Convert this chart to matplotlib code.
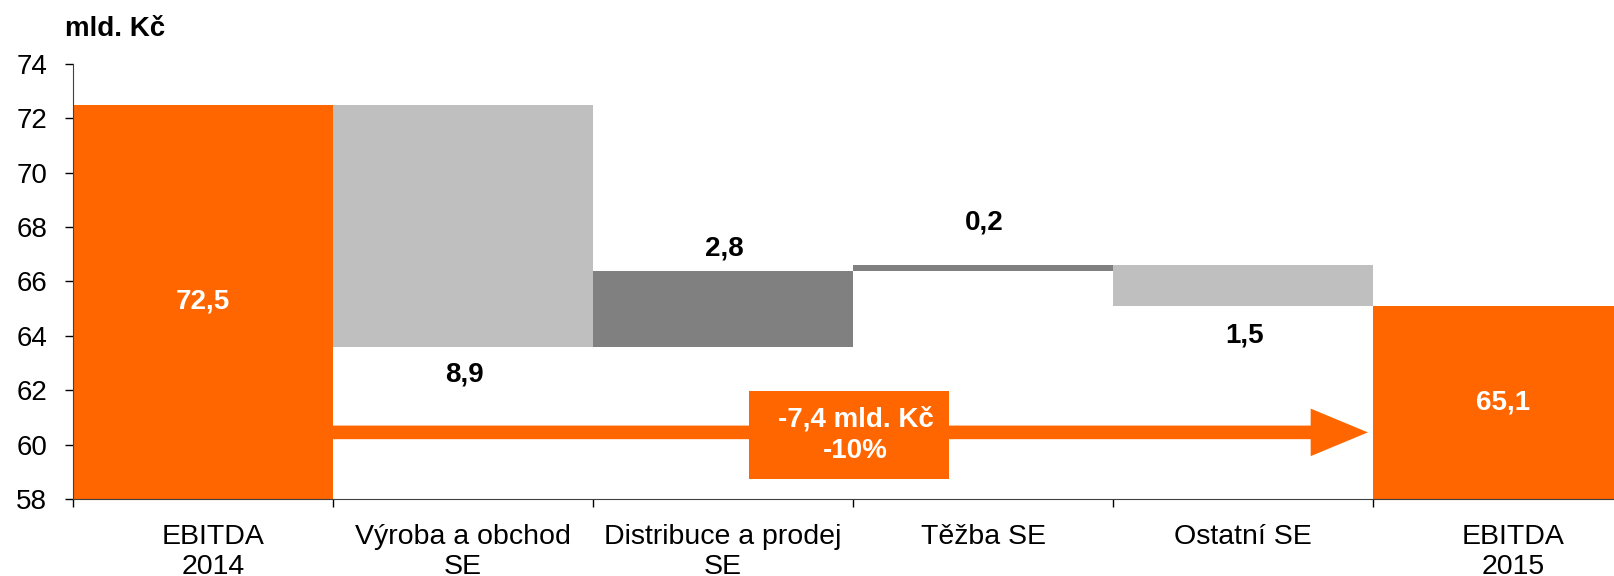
import numpy as np
import matplotlib.pyplot as plt
from matplotlib.patches import FancyArrow, Rectangle
from matplotlib.transforms import ScaledTranslation

plt.rcParams['font.family'] = ['Liberation Sans', 'DejaVu Sans']

# data
categories = ['EBITDA\n2014', 'Výroba a obchod\nSE', 'Distribuce a prodej\nSE',
              'Těžba SE', 'Ostatní SE', 'EBITDA\n2015']
start_value = 72.5
changes = [-8.9, 2.8, 0.2, -1.5]
end_value = 65.1
total_change = '-7,4 mld. Kč'
total_pct = '-10%'

orange = '#FF6600'
light_gray = '#BFBFBF'
dark_gray = '#808080'

# waterfall geometry
bottoms = [0]
heights = [start_value]
level = start_value
for c in changes:
    bottoms.append(min(level, level + c))
    heights.append(abs(c))
    level = level + c
bottoms.append(0)
heights.append(end_value)
colors = [orange] + [dark_gray if c > 0 else light_gray for c in changes] + [orange]

x = np.arange(len(categories))

fig = plt.figure(figsize=(16.15, 5.76), dpi=100)
ax = fig.add_axes([0.0452, 0.1337, 0.966, 0.7552])

ax.bar(x, heights, bottom=bottoms, width=1.0, color=colors, zorder=2)

ax.set_ylim(58, 74)
ax.set_xlim(-0.5, len(categories) - 0.5)
ax.set_yticks(np.arange(58, 75, 2))
ax.tick_params(axis='y', labelsize=20, direction='out', length=6, width=1, pad=12.5)

# ticks at the category borders, labels in the middle
ax.set_xticks(np.arange(-0.5, len(categories), 1.0))
ax.set_xticklabels([])
ax.set_xticks(x, minor=True)
ax.set_xticklabels(categories, minor=True, fontsize=20.5)
ax.tick_params(axis='x', which='major', direction='out', length=6, width=1)
ax.tick_params(axis='x', which='minor', length=0, pad=18)
# the two EBITDA labels sit a bit right of centre in the original
labs = ax.get_xticklabels(minor=True)
for i in [0, len(labs) - 1]:
    labs[i].set_transform(labs[i].get_transform() + ScaledTranslation(0.1, 0, fig.dpi_scale_trans))

for s in ['top', 'right']:
    ax.spines[s].set_visible(False)
for s in ['left', 'bottom']:
    ax.spines[s].set_color('#404040')

# labels
def fmt(v):
    return ('%.1f' % abs(v)).replace('.', ',')

ax.text(0, start_value / 2 + 29, fmt(start_value), color='white', fontsize=20,
        fontweight='bold', ha='center', va='center')
ax.text(5, end_value / 2 + 29, fmt(end_value), color='white', fontsize=20,
        fontweight='bold', ha='center', va='center')

offsets = [-20, 16, 31, -21]  # points from the bar edge
lvl = start_value
for i, c in enumerate(changes):
    new = lvl + c
    edge = max(lvl, new) if c > 0 else min(lvl, new)
    ax.annotate(fmt(c), (i + 1, edge), xytext=(1, offsets[i]), textcoords='offset points',
                ha='center', va='center', fontsize=20, fontweight='bold')
    lvl = new

# arrow from 2014 to 2015 with the total change box
ax.add_patch(FancyArrow(0.5, 60.45, 3.98, 0, width=0.5, head_width=1.75, head_length=0.22,
                        length_includes_head=True, color=orange, lw=0, zorder=3))
ax.add_patch(Rectangle((2.1, 58.72), 0.77, 3.25, color=orange, lw=0, zorder=4))
ax.text(2.51, 60.35, total_change + '\n' + total_pct, color='white', fontsize=20,
        fontweight='bold', ha='center', va='center', zorder=5, linespacing=1.25)

fig.text(0.04, 0.95, 'mld. Kč', fontsize=20, fontweight='bold', ha='left', va='center')

plt.savefig('out.png', dpi=100)
